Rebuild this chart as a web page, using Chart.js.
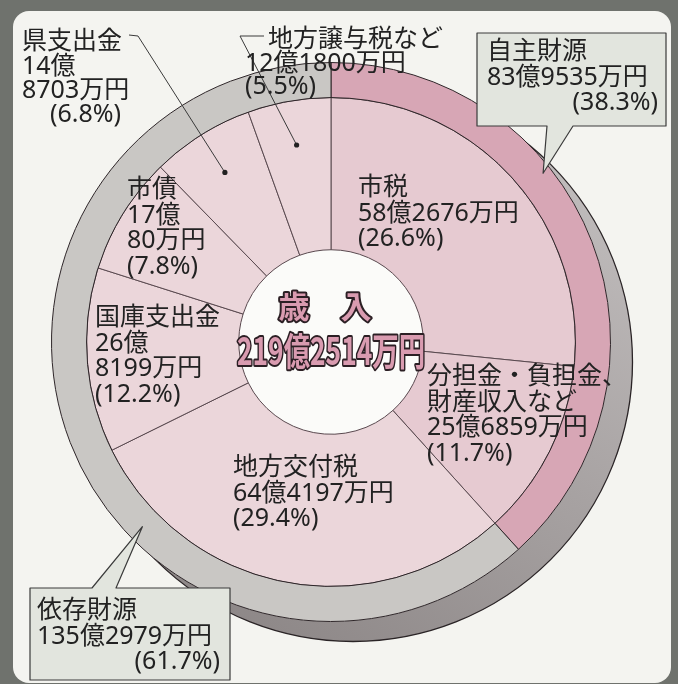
<!DOCTYPE html>
<html lang="ja">
<head>
<meta charset="utf-8">
<script src="https://cdn.jsdelivr.net/npm/chart.js@4/dist/chart.umd.min.js"></script>
<style>
  html, body { margin: 0; padding: 0; }
  body { width: 678px; height: 684px; background: #6f726d; position: relative; overflow: hidden; }
  #panel { position: absolute; left: 13px; top: 11px; width: 658px; height: 672px; border-radius: 16px; background: #f4f4f0; }
  #budgetChart { position: absolute; left: 0; top: 0; }
</style>
</head>
<body>
<div id="panel"></div>
<canvas id="budgetChart" width="678" height="684"></canvas>
<script>
// 歳入の内訳（内側の輪）
var innerLabels = ['市税', '分担金・負担金、財産収入など', '地方交付税', '国庫支出金', '市債', '県支出金', '地方譲与税など'];
var innerAmounts = ['58億2676万円', '25億6859万円', '64億4197万円', '26億8199万円', '17億80万円', '14億8703万円', '12億1800万円'];
var innerShares = [26.6, 11.7, 29.4, 12.2, 7.8, 6.8, 5.5];

// 自主財源・依存財源（外側の輪）
var outerLabels = ['自主財源', '依存財源'];
var outerAmounts = ['83億9535万円', '135億2979万円'];
var outerShares = [38.3, 61.7];

var totalLabel = '歳　入';
var totalAmount = '219億2514万円';

// latin digits from Noto Sans (wider), kanji from Noto Sans CJK
var FONT = '"Noto Sans", "Noto Sans CJK JP", sans-serif';

function pct(v) { return '(' + v.toFixed(1) + '%)'; }
function splitOku(s) { var i = s.indexOf('億'); return [s.slice(0, i + 1), s.slice(i + 1)]; }

// where each label sits on the page
var innerLayout = [
    { x: 358, y: 188, lines: function(i) { return [innerLabels[i], innerAmounts[i], pct(innerShares[i])]; } },
    { x: 427, y: 377, lines: function(i) { return ['分担金・負担金、', '財産収入など', innerAmounts[i], pct(innerShares[i])]; } },
    { x: 233, y: 468, lines: function(i) { return [innerLabels[i], innerAmounts[i], pct(innerShares[i])]; } },
    { x: 95, y: 318, lines: function(i) { return [innerLabels[i]].concat(splitOku(innerAmounts[i]), [pct(innerShares[i])]); } },
    { x: 127, y: 190, lines: function(i) { return [innerLabels[i]].concat(splitOku(innerAmounts[i]), [pct(innerShares[i])]); } }
];

function boxWithPointer(ctx, x0, y0, x1, y1, side, b0, b1, tip) {
    ctx.beginPath();
    ctx.moveTo(x0, y0);
    if (side === 'top') { ctx.lineTo(b0, y0); ctx.lineTo(tip.x, tip.y); ctx.lineTo(b1, y0); }
    ctx.lineTo(x1, y0);
    ctx.lineTo(x1, y1);
    if (side === 'bottom') { ctx.lineTo(b1, y1); ctx.lineTo(tip.x, tip.y); ctx.lineTo(b0, y1); }
    ctx.lineTo(x0, y1);
    ctx.closePath();
    ctx.fillStyle = '#e2e5de';
    ctx.fill();
    ctx.lineWidth = 1.2;
    ctx.strokeStyle = '#3a3a3a';
    ctx.stroke();
}

var decor = {
    id: 'decor',
    beforeDatasetsDraw: function(chart) {
        var ctx = chart.ctx;
        var arc = chart.getDatasetMeta(0).data[0];
        var R = arc.outerRadius, cx = arc.x, cy = arc.y;
        ctx.save();
        // drop shadow ring
        var g = ctx.createLinearGradient(cx + 200, cy - 200, cx - 100, cy + 300);
        g.addColorStop(0, '#c0bcbc');
        g.addColorStop(1, '#8c8686');
        ctx.beginPath();
        ctx.arc(cx + 22, cy + 20, R, 0, Math.PI * 2);
        ctx.fillStyle = g;
        ctx.fill();
        ctx.lineWidth = 1.3;
        ctx.strokeStyle = '#2a2426';
        ctx.stroke();
        // white centre under the rings
        ctx.beginPath();
        ctx.arc(cx, cy, R, 0, Math.PI * 2);
        ctx.fillStyle = '#fbfbf9';
        ctx.fill();
        ctx.restore();
    },
    afterDatasetsDraw: function(chart) {
        var ctx = chart.ctx;
        var outer = chart.getDatasetMeta(0).data;
        var inner = chart.getDatasetMeta(1).data;
        var cx = outer[0].x, cy = outer[0].y;
        ctx.save();

        // centre text
        ctx.textAlign = 'center';
        ctx.textBaseline = 'middle';
        ctx.lineJoin = 'round';
        ctx.font = 'bold 31px "Noto Sans CJK JP", sans-serif';
        ctx.lineWidth = 4;
        ctx.strokeStyle = '#2b1f24';
        ctx.fillStyle = '#d99bb0';
        ctx.strokeText(totalLabel, cx - 6, cy - 36);
        ctx.fillText(totalLabel, cx - 6, cy - 36);
        ctx.font = 'bold 38px "Noto Sans CJK JP", sans-serif';
        var w = ctx.measureText(totalAmount).width;
        ctx.save();
        ctx.translate(cx, cy + 9);
        ctx.scale(188 / w, 1);
        ctx.strokeText(totalAmount, 0, 0);
        ctx.fillText(totalAmount, 0, 0);
        ctx.restore();

        // labels inside the slices
        ctx.textAlign = 'left';
        ctx.fillStyle = '#222';
        ctx.font = '25px ' + FONT;
        innerLayout.forEach(function(l, i) {
            l.lines(i).forEach(function(t, k) {
                ctx.fillText(t, l.x, l.y + k * 25.5);
            });
        });

        // leader lines for the two thin slices
        function dot(i) {
            var a = inner[i];
            var m = (a.startAngle + a.endAngle) / 2;
            return { x: a.x + Math.cos(m) * 200, y: a.y + Math.sin(m) * 200 };
        }
        ctx.strokeStyle = '#3a3a3a';
        ctx.lineWidth = 1;
        ctx.fillStyle = '#222';
        var d5 = dot(5), d6 = dot(6);
        ctx.beginPath();
        ctx.moveTo(129, 35); ctx.lineTo(138, 36); ctx.lineTo(d5.x, d5.y);
        ctx.moveTo(264, 36); ctx.lineTo(240, 36); ctx.lineTo(d6.x, d6.y);
        ctx.stroke();
        [d5, d6].forEach(function(p) { ctx.beginPath(); ctx.arc(p.x, p.y, 2.6, 0, Math.PI * 2); ctx.fill(); });

        var l5 = [innerLabels[5]].concat(splitOku(innerAmounts[5]));
        l5.forEach(function(t, k) { ctx.fillText(t, 22, 42 + k * 24.5); });
        ctx.fillText(pct(innerShares[5]), 50, 115);
        ctx.fillText(innerLabels[6], 268, 40);
        ctx.fillText(innerAmounts[6], 245, 64);
        ctx.fillText(pct(innerShares[6]), 245, 87);

        // callouts for the outer ring
        function polar(deg, r) {
            var a = (deg - 90) * Math.PI / 180;
            return { x: cx + Math.cos(a) * r, y: cy + Math.sin(a) * r };
        }
        boxWithPointer(ctx, 477, 33, 666, 126, 'bottom', 547, 573, polar(51.5, 271));
        boxWithPointer(ctx, 30, 588, 230, 680, 'top', 92, 116, polar(225.6, 264));

        ctx.fillStyle = '#222';
        ctx.font = '25px ' + FONT;
        ctx.fillText(outerLabels[0], 487, 52);
        ctx.fillText(outerLabels[1], 37, 611);
        ctx.fillText(outerAmounts[0], 487, 78);
        ctx.fillText(outerAmounts[1], 37, 637);
        ctx.textAlign = 'right';
        ctx.fillText(pct(outerShares[0]), 658, 103);
        ctx.fillText(pct(outerShares[1]), 220, 662);
        ctx.restore();
    }
};

var ctx = document.getElementById('budgetChart').getContext('2d');
var budgetChart = new Chart(ctx, {
    type: 'doughnut',
    data: {
        labels: innerLabels,
        datasets: [{
            data: outerShares,
            backgroundColor: ['#d7a6b5', '#c9c7c4'],
            borderColor: '#2e2629',
            borderWidth: 1,
            weight: 35
        }, {
            data: innerShares,
            backgroundColor: ['#e6cad1', '#e6cad1', '#ebd6da', '#ebd6da', '#ebd6da', '#ebd6da', '#ebd6da'],
            borderColor: '#5a4a50',
            borderWidth: 1,
            weight: 152
        }]
    },
    options: {
        responsive: false,
        animation: false,
        cutout: '33%',
        layout: { padding: { left: 51, right: 67, top: 62, bottom: 62 } },
        plugins: {
            legend: { display: false },
            tooltip: { enabled: false }
        }
    },
    plugins: [decor]
});
</script>
</body>
</html>
